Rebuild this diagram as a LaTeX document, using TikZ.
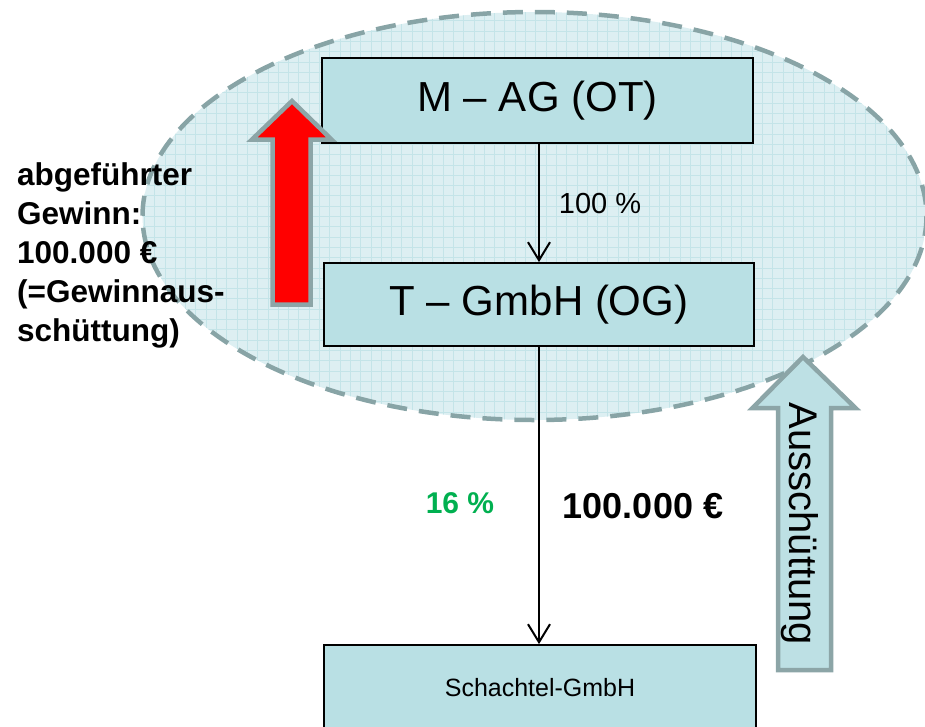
\documentclass[tikz,border=0pt]{standalone}
\usepackage{fontspec}
\setmainfont{Liberation Sans}
\usetikzlibrary{arrows.meta}
\definecolor{cloudfill}{RGB}{221,239,242}
\definecolor{cloudgrid}{RGB}{196,228,232}
\definecolor{cloudedge}{RGB}{136,164,166}
\definecolor{boxfill}{RGB}{185,224,228}
\definecolor{arrowedge}{RGB}{140,165,167}
\definecolor{flowfill}{RGB}{189,224,228}
\definecolor{sharegreen}{RGB}{0,176,80}
\begin{document}
\begin{tikzpicture}[x=1pt,y=-1pt,
  entity/.style={draw=black, line width=1.8pt, fill=boxfill, inner sep=0pt},
  link/.style={draw=black, line width=2pt, -{Straight Barb[length=18pt,width=22pt,line width=2pt]}},
  bigarrow/.style={draw=arrowedge, line width=4.5pt, line join=miter},
  labeltext/.style={inner sep=0pt, text=black}]
\useasboundingbox (0,0) rectangle (925,726);

% shaded group of parent and subsidiary
\begin{scope}
  \clip (534.5,216) ellipse [x radius=392, y radius=204];
  \fill[cloudfill] (140,10) rectangle (930,422);
  \draw[cloudgrid, line width=0.6pt, step=10.3pt] (140,10) grid (930,422);
\end{scope}
\draw[cloudedge, line width=4.5pt, dash pattern=on 20pt off 12pt]
  (534.5,216) ellipse [x radius=392, y radius=204];

% companies
\node[entity, minimum width=431pt, minimum height=85pt] (mag) at (537.5,100.5)
  {\fontsize{42}{50}\selectfont M – AG (OT)};
\node[entity, minimum width=430pt, minimum height=83pt] (tg) at (539,304.5)
  {\fontsize{42}{50}\selectfont T – GmbH (OG)};
\node[entity, minimum width=432pt, minimum height=86pt] (sg) at (540,688)
  {\fontsize{25}{30}\selectfont Schachtel-GmbH};

% holdings
\draw[link] (tg.north |- mag.south) -- (tg.north);
\draw[link] (tg.south) -- (tg.south |- sg.north);

% profit transfer upward
\draw[bigarrow, fill=red]
  (292,101) -- (331.5,139.5) -- (310.5,139.5) -- (310.5,304.5)
  -- (272.5,304.5) -- (272.5,139.5) -- (252,139.5) -- cycle;

% distribution upward
\draw[bigarrow, fill=flowfill]
  (803,357) -- (855.5,408) -- (831,408) -- (831,670)
  -- (778,670) -- (778,408) -- (752.5,408) -- cycle;
\node[labeltext, rotate=-90] (dist) at (800,524)
  {\fontsize{40}{48}\selectfont Ausschüttung};

% labels
\node[labeltext] (pct100) at (600,204) {\fontsize{29}{35}\selectfont 100 \%};
\node[labeltext, text=sharegreen] (pct16) at (460,503)
  {\fontsize{30}{36}\selectfont\bfseries 16 \%};
\node[labeltext] (amount) at (643,506) {\fontsize{36}{43}\selectfont\bfseries 100.000 €};
\node[labeltext, anchor=north west, align=left,
      font=\fontsize{31.5}{39}\selectfont\bfseries] (profit) at (17,162)
  {abgeführter\\Gewinn:\\100.000 €\\(=Gewinnaus-\\schüttung)};
\end{tikzpicture}
\end{document}
